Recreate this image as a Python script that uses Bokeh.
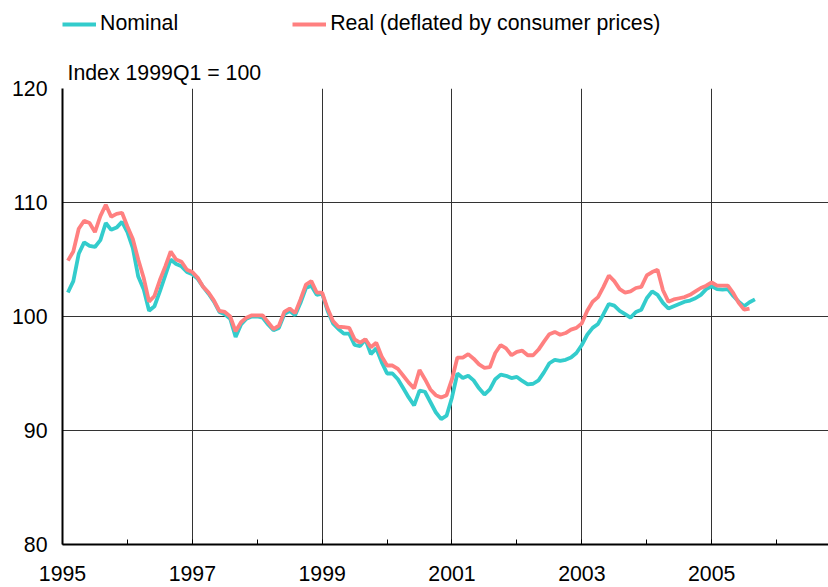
from bokeh.plotting import figure
from bokeh.layouts import column
from bokeh.models import FixedTicker, Legend, LegendItem, Range1d, Title
from bokeh.embed import file_html
from bokeh.resources import INLINE

# Monthly data, Jan 1995 onwards (index 1999Q1 = 100)
start_year = 1995
nominal = [
    102.1, 103.1, 105.5, 106.5, 106.2, 106.1, 106.7, 108.2, 107.6, 107.8, 108.3, 107.4,
    106.0, 103.5, 102.4, 100.5, 100.9, 102.2, 103.6, 105.0, 104.6, 104.4, 103.9, 103.7,
    103.3, 102.6, 102.0, 101.3, 100.4, 100.2, 99.8, 98.2, 99.3, 99.8, 100.0, 100.0,
    99.9, 99.3, 98.8, 99.0, 100.2, 100.5, 100.1, 101.2, 102.5, 102.7, 101.9, 102.0,
    100.5, 99.4, 98.9, 98.5, 98.5, 97.5, 97.4, 98.0, 96.7, 97.2, 96.0, 95.0,
    95.0, 94.5, 93.7, 92.9, 92.2, 93.5, 93.4, 92.5, 91.6, 91.0, 91.3, 92.9,
    95.0, 94.6, 94.8, 94.4, 93.7, 93.15, 93.6, 94.5, 94.9, 94.8, 94.6, 94.7,
    94.35, 94.05, 94.1, 94.4, 95.1, 95.9, 96.2, 96.1, 96.2, 96.4, 96.8, 97.5,
    98.4, 99.0, 99.35, 100.2, 101.1, 100.95, 100.5, 100.2, 99.9, 100.4, 100.6, 101.6,
    102.2, 101.9, 101.2, 100.7, 100.9, 101.1, 101.3, 101.4, 101.6, 101.9, 102.4, 102.65,
    102.4, 102.35, 102.4, 101.8, 101.3, 100.9, 101.25, 101.5,
]
real = [
    104.9, 105.7, 107.7, 108.4, 108.2, 107.4, 108.8, 109.8, 108.75, 109.0, 109.1, 107.9,
    106.8, 105.0, 103.4, 101.3, 101.8, 103.2, 104.4, 105.7, 105.0, 104.8, 104.1, 103.9,
    103.4, 102.6, 102.1, 101.4, 100.5, 100.4, 100.0, 98.7, 99.5, 99.9, 100.1, 100.1,
    100.1, 99.5, 98.9, 99.2, 100.4, 100.7, 100.3, 101.5, 102.8, 103.1, 102.1, 102.1,
    100.7, 99.6, 99.1, 99.06, 99.0, 98.0, 97.7, 98.0, 97.3, 97.7, 96.5, 95.7,
    95.7, 95.4, 94.8, 94.2, 93.7, 95.3, 94.5, 93.6, 93.1, 92.9, 93.1, 94.5,
    96.4, 96.4, 96.7, 96.3, 95.8, 95.5, 95.55, 96.8, 97.5, 97.2, 96.6, 96.9,
    97.0, 96.6, 96.6, 97.1, 97.8, 98.45, 98.65, 98.4, 98.55, 98.85, 99.0, 99.4,
    100.5, 101.3, 101.7, 102.6, 103.6, 103.1, 102.4, 102.1, 102.2, 102.5, 102.6, 103.6,
    103.9, 104.1, 102.3, 101.3, 101.5, 101.6, 101.7, 101.9, 102.2, 102.5, 102.7, 103.0,
    102.7, 102.7, 102.7, 102.05, 101.2, 100.6, 100.7,
]
x_nom = [start_year + (k + 1) / 12 for k in range(len(nominal))]
x_real = [start_year + (k + 1) / 12 for k in range(len(real))]

year_ticks = list(range(1995, 2007))
label_years = [1995, 1997, 1999, 2001, 2003, 2005]
grid_years = [1997, 1999, 2001, 2003, 2005]
y_ticks = [80, 90, 100, 110, 120]
series_names = ["Nominal", "Real (deflated by consumer prices)"]
unit_label = "Index 1999Q1 = 100"

FONT = "Liberation Sans"
FS = "21.3px"
TEAL = "#33CCCC"
SALMON = "#FF8080"
LW = 3.8

# ---- legend strip on top (series drawn outside its visible range) ----
leg = figure(width=828, height=44, output_backend="svg", toolbar_location=None,
             x_range=Range1d(0, 1), y_range=Range1d(0, 1),
             x_axis_location=None, y_axis_location=None,
             min_border_left=0, min_border_right=0, min_border_top=0, min_border_bottom=0)
leg.outline_line_color = None
leg.xgrid.visible = False
leg.ygrid.visible = False
lr_nom = leg.line(x_nom, nominal, line_color=TEAL, line_width=LW)
lr_real = leg.line(x_real, real, line_color=SALMON, line_width=LW)
legend = Legend(items=[LegendItem(label=series_names[0], renderers=[lr_nom]),
                       LegendItem(label=series_names[1], renderers=[lr_real])],
                orientation="horizontal", location=(0, 8),
                label_text_font=FONT, label_text_font_size=FS, label_text_color="black",
                glyph_width=34, glyph_height=22, label_standoff=4, spacing=114,
                padding=0, margin=0, border_line_color=None, background_fill_alpha=0)
leg.add_layout(legend, "center")

# ---- main chart ----
p = figure(width=828, height=543, output_backend="svg", toolbar_location=None,
           x_range=Range1d(1995, 2006.8), y_range=Range1d(80, 120),
           min_border_left=62, min_border_right=0, min_border_top=44, min_border_bottom=43)
p.outline_line_color = None

p.line(x_nom, nominal, line_color=TEAL, line_width=LW)
p.line(x_real, real, line_color=SALMON, line_width=LW)

xa = p.xaxis[0]
xa.ticker = FixedTicker(ticks=year_ticks)
xa.major_label_overrides = {y: (str(y) if y in label_years else "") for y in year_ticks}
xa.major_label_text_align = "left"
xa.major_label_text_font = FONT
xa.major_label_text_font_size = FS
xa.major_label_text_color = "black"
xa.major_label_standoff = 21
xa.major_tick_in = 5
xa.major_tick_out = 0
xa.major_tick_line_color = "black"
xa.minor_tick_line_color = None
xa.axis_line_color = "black"
xa.axis_line_width = 2

ya = p.yaxis[0]
ya.ticker = FixedTicker(ticks=y_ticks)
ya.major_label_text_font = FONT
ya.major_label_text_font_size = FS
ya.major_label_text_color = "black"
ya.major_label_standoff = 15
ya.major_tick_in = 0
ya.major_tick_out = 0
ya.minor_tick_line_color = None
ya.axis_line_color = "black"
ya.axis_line_width = 2

p.xgrid.ticker = FixedTicker(ticks=grid_years)
p.ygrid.ticker = FixedTicker(ticks=y_ticks)
p.xgrid.grid_line_color = "#333333"
p.ygrid.grid_line_color = "#333333"

title = Title(text=unit_label, text_font=FONT, text_font_size=FS, text_font_style="normal",
              text_color="black", align="left", offset=5, standoff=7)
p.add_layout(title, "above")

layout = column(leg, p, spacing=0)
open("out.html", "w").write(file_html(layout, INLINE))
